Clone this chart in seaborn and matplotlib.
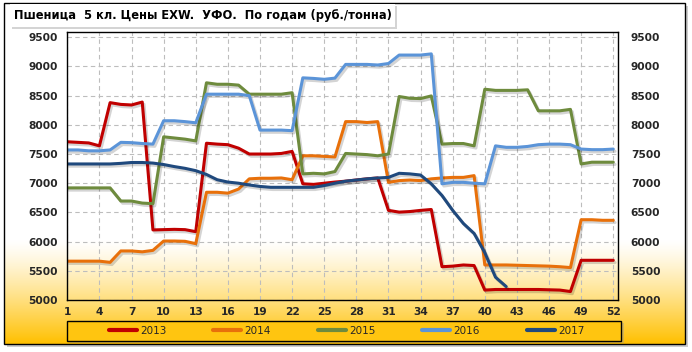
import numpy as np
import pandas as pd
import matplotlib
matplotlib.use("Agg")
import matplotlib.pyplot as plt
import seaborn as sns
import matplotlib.patheffects as pe
from matplotlib.patches import Rectangle
from matplotlib.lines import Line2D
from matplotlib.colors import LinearSegmentedColormap

# ---------------- data ----------------
title = "Пшеница  5 кл. Цены EXW.  УФО.  По годам (руб./тонна)"
weeks = list(range(1, 53))
years = ["2013", "2014", "2015", "2016", "2017"]
colors = ["#C00000", "#E8700A", "#6E8B3D", "#5B94D8", "#1F497D"]

y2013 = [7710, 7700, 7690, 7640, 8380, 8350, 8340, 8390, 6200, 6205, 6210, 6205, 6170,
         7685, 7670, 7660, 7600, 7500, 7500, 7500, 7510, 7545, 6990, 6980, 7000, 7020,
         7035, 7055, 7075, 7090, 6535, 6505, 6515, 6535, 6550, 5570, 5580, 5600, 5590,
         5170, 5180, 5180, 5180, 5180, 5180, 5175, 5170, 5145, 5680, 5680, 5680, 5680]
y2014 = [5665, 5665, 5665, 5665, 5645, 5840, 5840, 5825, 5850, 6010, 6010, 6005, 5965,
         6845, 6845, 6830, 6900, 7075, 7085, 7085, 7090, 7060, 7470, 7470, 7460, 7450,
         8055, 8055, 8040, 8055, 7015, 7045, 7055, 7045, 7075, 7090, 7100, 7100, 7130,
         5600, 5600, 5600, 5595, 5590, 5585, 5580, 5570, 5555, 6375, 6375, 6365, 6365]
y2015 = [6920, 6920, 6920, 6920, 6920, 6695, 6695, 6660, 6650, 7795, 7775, 7755, 7725,
         8720, 8695, 8695, 8680, 8525, 8525, 8525, 8525, 8550, 7160, 7170, 7160, 7200,
         7510, 7500, 7490, 7470, 7500, 8485, 8455, 8450, 8495, 7670, 7680, 7680, 7640,
         8610, 8590, 8590, 8590, 8600, 8240, 8240, 8240, 8265, 7330, 7360, 7360, 7360]
y2016 = [7570, 7570, 7555, 7555, 7570, 7700, 7695, 7680, 7670, 8070, 8070, 8055, 8035,
         8525, 8525, 8525, 8525, 8500, 7910, 7910, 7910, 7900, 8805, 8795, 8780, 8800,
         9035, 9035, 9035, 9025, 9050, 9195, 9195, 9195, 9215, 6990, 7015, 7015, 7000,
         6990, 7640, 7615, 7615, 7630, 7660, 7670, 7670, 7660, 7585, 7575, 7575, 7585]
y2017 = [7330, 7330, 7330, 7330, 7330, 7340, 7355, 7355, 7345, 7320, 7285, 7255, 7215,
         7150, 7060, 7020, 7000, 6970, 6945, 6930, 6930, 6930, 6930, 6930, 6960, 7000,
         7035, 7055, 7075, 7090, 7100, 7170, 7160, 7140, 6990, 6790, 6535, 6310, 6140,
         5810, 5390, 5230]

xticks = list(range(1, 53, 3))
yticks = list(range(5000, 10000, 500))

series = [y2013, y2014, y2015, y2016, y2017]
rows = []
for yr, vals in zip(years, series):
    for w, v in zip(weeks, vals):
        rows.append({"week": w, "price": v, "year": yr})
df = pd.DataFrame(rows)

# ---------------- figure ----------------
W, H = 692, 352
sns.set_theme(style="white")
plt.rcParams["font.family"] = ["DejaVu Sans"]

fig = plt.figure(figsize=(W / 100, H / 100), dpi=100)
fig.patch.set_facecolor("white")

bg = fig.add_axes([0, 0, 1, 1], zorder=0)
bg.set_xlim(0, W)
bg.set_ylim(H, 0)
bg.axis("off")

# outer frame shadow
bg.add_patch(Rectangle((7, 6), 681, 341, facecolor="#9A9A9A", edgecolor="none", alpha=0.5))
bg.add_patch(Rectangle((4, 3), 681, 341, facecolor="white", edgecolor="none"))
# gradient
ys = np.linspace(3, 344, 400)
t = np.clip((ys - 240) / (344 - 240), 0, 1) ** 1.25
cmap = LinearSegmentedColormap.from_list("g", ["#FFFFFF", "#FFC000"])
bg.imshow(t[:, None], cmap=cmap, vmin=0, vmax=1, aspect="auto",
          extent=(4, 685, 344, 3), interpolation="bilinear", zorder=1)
bg.add_patch(Rectangle((4, 3), 681, 341, facecolor="none", edgecolor="black", lw=1.0, zorder=3))

# title box
bg.add_patch(Rectangle((12, 6), 385, 23, facecolor="#A0A0A0", edgecolor="none", alpha=0.45, zorder=3))
bg.add_patch(Rectangle((10, 4), 385, 23, facecolor="white", edgecolor="none", zorder=4))
ttl = bg.text(14, 15.5, title, fontsize=8.5, fontweight="bold", ha="left", va="center",
              color="black", zorder=5)
fig.canvas.draw()
bb = ttl.get_window_extent()
ttl.set_fontsize(8.5 * 378 / bb.width)

# legend box
bg.add_patch(Rectangle((69.5, 323), 554, 20, facecolor="#9A9A9A", edgecolor="none", alpha=0.4, zorder=3))
bg.add_patch(Rectangle((67.3, 321), 554, 20, facecolor="#FFC510", edgecolor="black", lw=1.0, zorder=4))

# main axes
L, R, T, B = 67.3, 618.3, 32, 300
ax = fig.add_axes([L / W, 1 - B / H, (R - L) / W, (B - T) / H], zorder=2)
ax.patch.set_alpha(0)

pal = dict(zip(years, colors))
sns.lineplot(data=df, x="week", y="price", hue="year", palette=pal, estimator=None,
             linewidth=2.2, legend=False, ax=ax, sort=True)
for ln in ax.lines:
    ln.set_solid_joinstyle("round")
    ln.set_solid_capstyle("round")
    ln.set_path_effects([pe.SimpleLineShadow(offset=(1.3, -1.6), shadow_color="black", alpha=0.17),
                         pe.Normal()])

ax.set_xlim(1, 52.47)
ax.set_ylim(5000, 9590)
ax.set_xticks(xticks)
ax.set_yticks(yticks)
ax.set_xticklabels([str(v) for v in xticks], fontsize=7.7, fontweight="bold")
ax.set_yticklabels([str(v) for v in yticks], fontsize=7.7, fontweight="bold")
ax.tick_params(axis="both", length=0)
ax.tick_params(axis="x", pad=5)
ax.tick_params(axis="y", pad=7)
ax.set_xlabel("")
ax.set_ylabel("")
ax.grid(True, color="#BDBDBD", linestyle=(0, (4, 3)), linewidth=0.8)
for s in ax.spines.values():
    s.set_visible(True)
    s.set_color("black")
    s.set_linewidth(1.0)

ax2 = ax.twinx()
ax2.set_ylim(ax.get_ylim())
ax2.set_yticks(yticks)
ax2.set_yticklabels([str(v) for v in yticks], fontsize=7.7, fontweight="bold")
ax2.tick_params(axis="y", length=0, pad=9)
ax2.grid(False)
for s in ax2.spines.values():
    s.set_visible(False)

handles = [Line2D([], [], color=c, lw=3) for c in colors]
fig.legend(handles, years, ncol=5, loc="center", bbox_to_anchor=(346.5 / W, 1 - 331 / H),
           frameon=False, fontsize=7.5, handlelength=2.7, handletextpad=0.3,
           columnspacing=4.5, borderpad=0)

fig.savefig("out.png", dpi=100)
